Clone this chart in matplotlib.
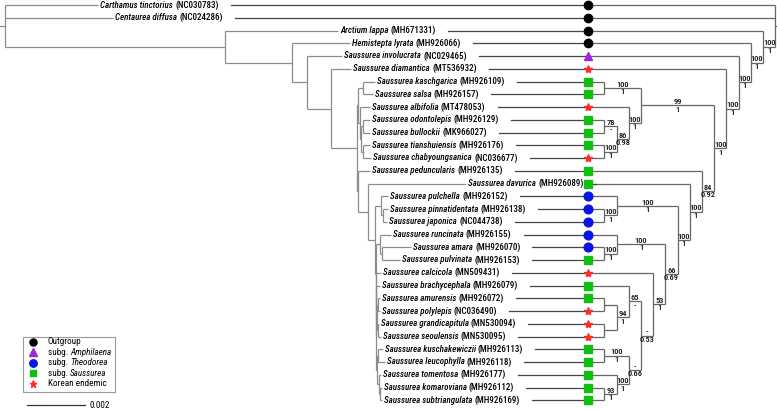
import matplotlib
matplotlib.use("Agg")
import matplotlib.pyplot as plt
from matplotlib.patches import Rectangle

# ---- data -------------------------------------------------------------
# leaf keys in the Newick string are the species epithets
genus = ["Carthamus", "Centaurea", "Arctium", "Hemistepta"] + ["Saussurea"] * 28
epithet = ["tinctorius", "diffusa", "lappa", "lyrata", "involucrata", "diamantica",
           "kaschgarica", "salsa", "albifolia", "odontolepis", "bullockii",
           "tianshuiensis", "chabyoungsanica", "peduncularis", "davurica",
           "pulchella", "pinnatidentata", "japonica", "runcinata", "amara",
           "pulvinata", "calcicola", "brachycephala", "amurensis", "polylepis",
           "grandicapitula", "seoulensis", "kuschakewiczii", "leucophylla",
           "tomentosa", "komaroviana", "subtriangulata"]
accession = ["NC030783", "NC024286", "MH671331", "MH926066", "NC029465", "MT536932",
             "MH926109", "MH926157", "MT478053", "MH926129", "MK966027",
             "MH926176", "NC036677", "MH926135", "MH926089", "MH926152",
             "MH926138", "NC044738", "MH926155", "MH926070", "MH926153",
             "MN509431", "MH926079", "MH926072", "NC036490", "MN530094",
             "MN530095", "MH926113", "MH926118", "MH926177", "MH926112", "MH926169"]
group = ["out", "out", "out", "out", "amph", "kor", "sau", "sau", "kor", "sau", "sau",
         "sau", "kor", "sau", "sau", "theo", "theo", "theo", "theo", "theo", "sau",
         "kor", "sau", "sau", "kor", "kor", "kor", "sau", "sau", "sau", "sau", "sau"]

# topology, branch lengths (subst./site) and support (ML bootstrap / posterior)
tree_newick = """
(tinctorius:0.00321,diffusa:0.00372,
 (lappa:0.00390,
  (lyrata:0.00200,
   (involucrata:0.00121,
    (diamantica:0.00069,
     (((kaschgarica:0.00041,salsa:0.00034)100/1:0.00017,
       (albifolia:0.00034,
        ((odontolepis:0.00024,bullockii:0.00024)78/-:0.00007,
         (tianshuiensis:0.00024,chabyoungsanica:0.00028)100/1:0.00007)86/0.98:0.00003
       )100/1:0.00007
      )99/1:0.00003,
      (peduncularis:0.00041,
       (davurica:0.00338,
        ((pulchella:0.00024,(pinnatidentata:0.00017,japonica:0.00014)100/1:0.00007)100/1:0.00021,
         ((runcinata:0.00038,(amara:0.00100,pulvinata:0.00062)100/1:0.00007)100/1:0.00014,
          (calcicola:0.00017,
           ((brachycephala:0.00014,
             ((amurensis:0.00007,polylepis:0.00007):0.00003,
              (grandicapitula:0.00003,seoulensis:0.00010):0.00003)94/1:0.00003
            )65/-:0.00000,
            ((kuschakewiczii:0.00017,leucophylla:0.00024)100/1:0.00003,
             (tomentosa:0.00007,(komaroviana:0.00007,subtriangulata:0.00007)93/1:0.00003)100/1:0.00007
            )-/0.66:0.00003
           )-/0.53:0.00000
          )53/1:0.00000
         )66/0.69:0.00003
        )100/1:0.00024
       )100/1:0.00034
      )84/0.92:0.00003
     )100/1:0.00090
    )100/1:0.00083
   )100/1:0.00052
  )100/1:0.00231
 )100/1:0.00759
);
"""

# legend entries: (roman part, italic part)
legend_text = [("Outgroup", ""), ("subg. ", "Amphilaena"), ("subg. ", "Theodorea"),
               ("subg. ", "Saussurea"), ("Korean endemic", "")]
legend_groups = ["out", "amph", "theo", "sau", "kor"]
scale_value = 0.002
scale_label = "0.002"

# ---- styles -----------------------------------------------------------
FONT = "Roboto Condensed"
plt.rcParams["font.family"] = [FONT, "DejaVu Sans"]

markers = {"out": dict(marker="o", color="#000000", ms=6),
           "amph": dict(marker="^", color="#9a28d8", ms=6),
           "theo": dict(marker="o", color="#0a14e6", ms=6.3),
           "sau": dict(marker="s", color="#10c010", ms=5.6),
           "kor": dict(marker="*", color="#ff2a2a", ms=6)}


def parse(s):
    s = "".join(s.split())
    pos = 0

    def node():
        nonlocal pos
        kids = []
        if s[pos] == "(":
            pos += 1
            while True:
                kids.append(node())
                if s[pos] == ",":
                    pos += 1
                    continue
                pos += 1
                break
        start = pos
        while s[pos] not in ":,();":
            pos += 1
        label = s[start:pos]
        length = 0.0
        if s[pos] == ":":
            pos += 1
            start = pos
            while s[pos] not in ",();":
                pos += 1
            length = float(s[start:pos])
        return {"label": label, "len": length, "kids": kids}

    return node()


root = parse(tree_newick)

# layout in pixel units of the 777x409 canvas
Y0, DY = 5.0, 12.75
LX0, PX_PER_UNIT = 5.0, 29000.0
SYM_X = 588.0
RX0, RSTEP = 592.2, 12.2
LEFT_C, RIGHT_C, CONN_C = "#8c8c8c", "#666666", "#444444"
LABEL_FS, SUPPORT_FS, LEG_FS = 6.5, 6.0, 6.6
TXT_C = "#000000"
WEIGHT = "medium"

leaves = []


def layout(n, dist):
    n["x"] = LX0 + dist * PX_PER_UNIT
    if not n["kids"]:
        n["y"] = Y0 + len(leaves) * DY
        n["h"] = 0
        leaves.append(n)
        return
    for k in n["kids"]:
        layout(k, dist + k["len"])
    n["y"] = (n["kids"][0]["y"] + n["kids"][-1]["y"]) / 2
    n["h"] = max(k["h"] for k in n["kids"]) + 1


layout(root, 0.0)


def rx(n):
    return SYM_X if not n["kids"] else RX0 + RSTEP * n["h"]


fig = plt.figure(figsize=(7.77, 4.09), dpi=100)
ax = fig.add_axes([0, 0, 1, 1])
ax.set_xlim(0, 777)
ax.set_ylim(409, 0)
ax.axis("off")

lw = 0.9


def draw(n):
    if not n["kids"]:
        return
    ys = [k["y"] for k in n["kids"]]
    ax.plot([n["x"], n["x"]], [min(ys), max(ys)], color=LEFT_C, lw=lw, solid_capstyle="butt")
    ax.plot([rx(n), rx(n)], [min(ys), max(ys)], color=RIGHT_C, lw=lw, solid_capstyle="butt")
    for k in n["kids"]:
        ax.plot([n["x"], k["x"]], [k["y"], k["y"]], color=LEFT_C, lw=lw, solid_capstyle="butt")
        ax.plot([rx(k), rx(n)], [k["y"], k["y"]], color=RIGHT_C, lw=lw, solid_capstyle="butt")
        if k["kids"] and "/" in k["label"]:
            top, bot = k["label"].split("/")
            cx = (rx(k) + rx(n)) / 2
            ax.text(cx, k["y"] - 0.3, top, ha="center", va="bottom", fontsize=SUPPORT_FS,
                    color="#111111", weight=WEIGHT)
            ax.text(cx, k["y"] + 0.2, bot, ha="center", va="top", fontsize=SUPPORT_FS,
                    color="#111111", weight=WEIGHT)
        draw(k)


draw(root)
ax.plot([0, root["x"]], [root["y"], root["y"]], color=LEFT_C, lw=lw)
ax.plot([rx(root), rx(root) + 2], [root["y"], root["y"]], color=RIGHT_C, lw=lw)

# taxon labels (italic binomial + roman accession), connectors and symbols
renderer = fig.canvas.get_renderer()
inv = ax.transData.inverted()
idx = {e: i for i, e in enumerate(epithet)}


def right_edge(t):
    bb = t.get_window_extent(renderer=renderer)
    return inv.transform((bb.x1, bb.y0))[0]


for lf in leaves:
    i = idx[lf["label"]]
    t1 = ax.text(lf["x"] + 2, lf["y"], "%s %s" % (genus[i], epithet[i]), ha="left", va="center",
                 fontsize=LABEL_FS, style="italic", color=TXT_C, weight=WEIGHT)
    t2 = ax.text(right_edge(t1) + 2.2, lf["y"], "(%s)" % accession[i], ha="left", va="center",
                 fontsize=LABEL_FS, color=TXT_C, weight=WEIGHT)
    ax.plot([right_edge(t2) + 12, SYM_X], [lf["y"], lf["y"]], color=CONN_C, lw=lw)
    ax.plot(SYM_X, lf["y"], ls="none", zorder=5, **markers[group[i]])

# legend box drawn by hand so the rows stay tight
LEG_X, LEG_Y, LEG_W, LEG_H, LEG_DY = 22.5, 336.5, 92, 55, 10.6
ax.add_patch(Rectangle((LEG_X, LEG_Y), LEG_W, LEG_H, fill=False, edgecolor="#9a9a9a", lw=0.8))
for j, (g, (rom, ital)) in enumerate(zip(legend_groups, legend_text)):
    yy = LEG_Y + 5 + j * LEG_DY
    m = dict(markers[g], ms=markers[g]["ms"] * 0.85)
    ax.plot(LEG_X + 10, yy, ls="none", **m)
    t = ax.text(LEG_X + 25, yy, rom, ha="left", va="center", fontsize=LEG_FS, color=TXT_C)
    if ital:
        ax.text(right_edge(t) + 0.5, yy, ital, ha="left", va="center", fontsize=LEG_FS,
                style="italic", color=TXT_C)

# scale bar
x_bar = 27.0
ax.plot([x_bar, x_bar + scale_value * PX_PER_UNIT], [405, 405], color="#333333", lw=0.9)
ax.text(x_bar + scale_value * PX_PER_UNIT + 4, 405, scale_label, ha="left", va="center",
        fontsize=LEG_FS, color=TXT_C)

fig.savefig("out.png", dpi=100)
